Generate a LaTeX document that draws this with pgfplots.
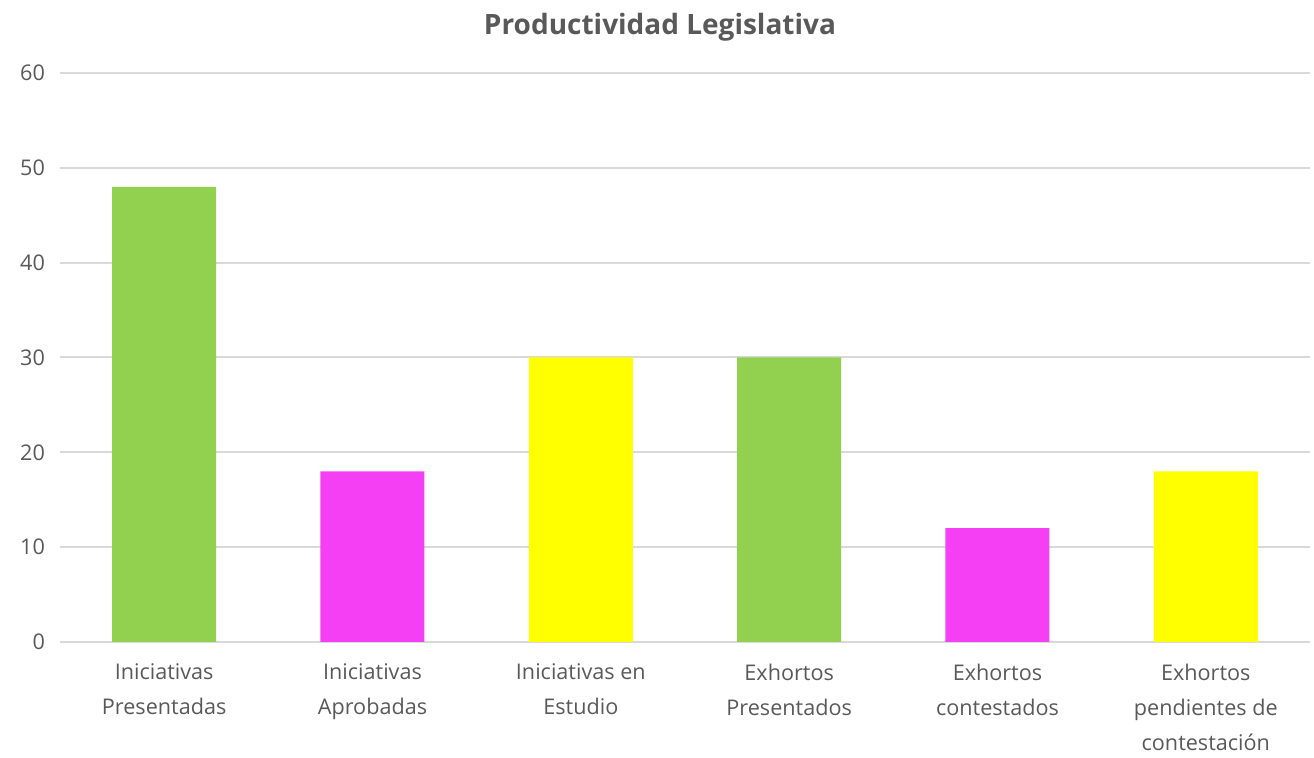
\documentclass[border=0pt]{standalone}
\usepackage{fontspec}
\setmainfont{Open Sans}
\usepackage{pgfplots}
\pgfplotsset{compat=1.18}
\definecolor{txt}{HTML}{595959}
\definecolor{gridc}{HTML}{D9D9D9}
\definecolor{cgreen}{HTML}{92D050}
\definecolor{cmag}{HTML}{F43FF4}
\definecolor{cyel}{HTML}{FFFF00}
\begin{document}
\begin{tikzpicture}
\path[use as bounding box] (-30pt,-58pt) rectangle (627pt,321pt);
\begin{axis}[
  scale only axis,
  width=625pt, height=284.5pt,
  xmin=-0.5, xmax=5.5,
  ymin=0, ymax=60,
  ytick={0,10,...,60},
  xtick={0,1,2,3,4,5},
  xticklabels={{Iniciativas\\Presentadas},{Iniciativas\\Aprobadas},{Iniciativas en\\Estudio},{Exhortos\\Presentados},{Exhortos\\contestados},{Exhortos\\pendientes de\\contestación}},
  axis line style={draw=none},
  ymajorgrids,
  grid style={gridc, line width=1pt},
  major tick style={draw=none},
  /pgf/number format/assume math mode=true,
  tick label style={font=\fontsize{10.8}{17.5}\selectfont, text=txt},
  xticklabel style={align=center, anchor=north, yshift=-3pt},
  yticklabel style={anchor=east, xshift=-4pt},
  title={Productividad Legislativa},
  title style={font=\fontsize{14}{16}\selectfont\bfseries, text=txt, at={(0.48,1)}, anchor=center, yshift=17pt},
  ybar, bar width=52pt, bar shift=0pt,
]
\addplot[fill=cgreen, draw=none] coordinates {(0,48) (3,30)};
\addplot[fill=cmag, draw=none] coordinates {(1,18) (4,12)};
\addplot[fill=cyel, draw=none] coordinates {(2,30) (5,18)};
\end{axis}
\end{tikzpicture}
\end{document}
